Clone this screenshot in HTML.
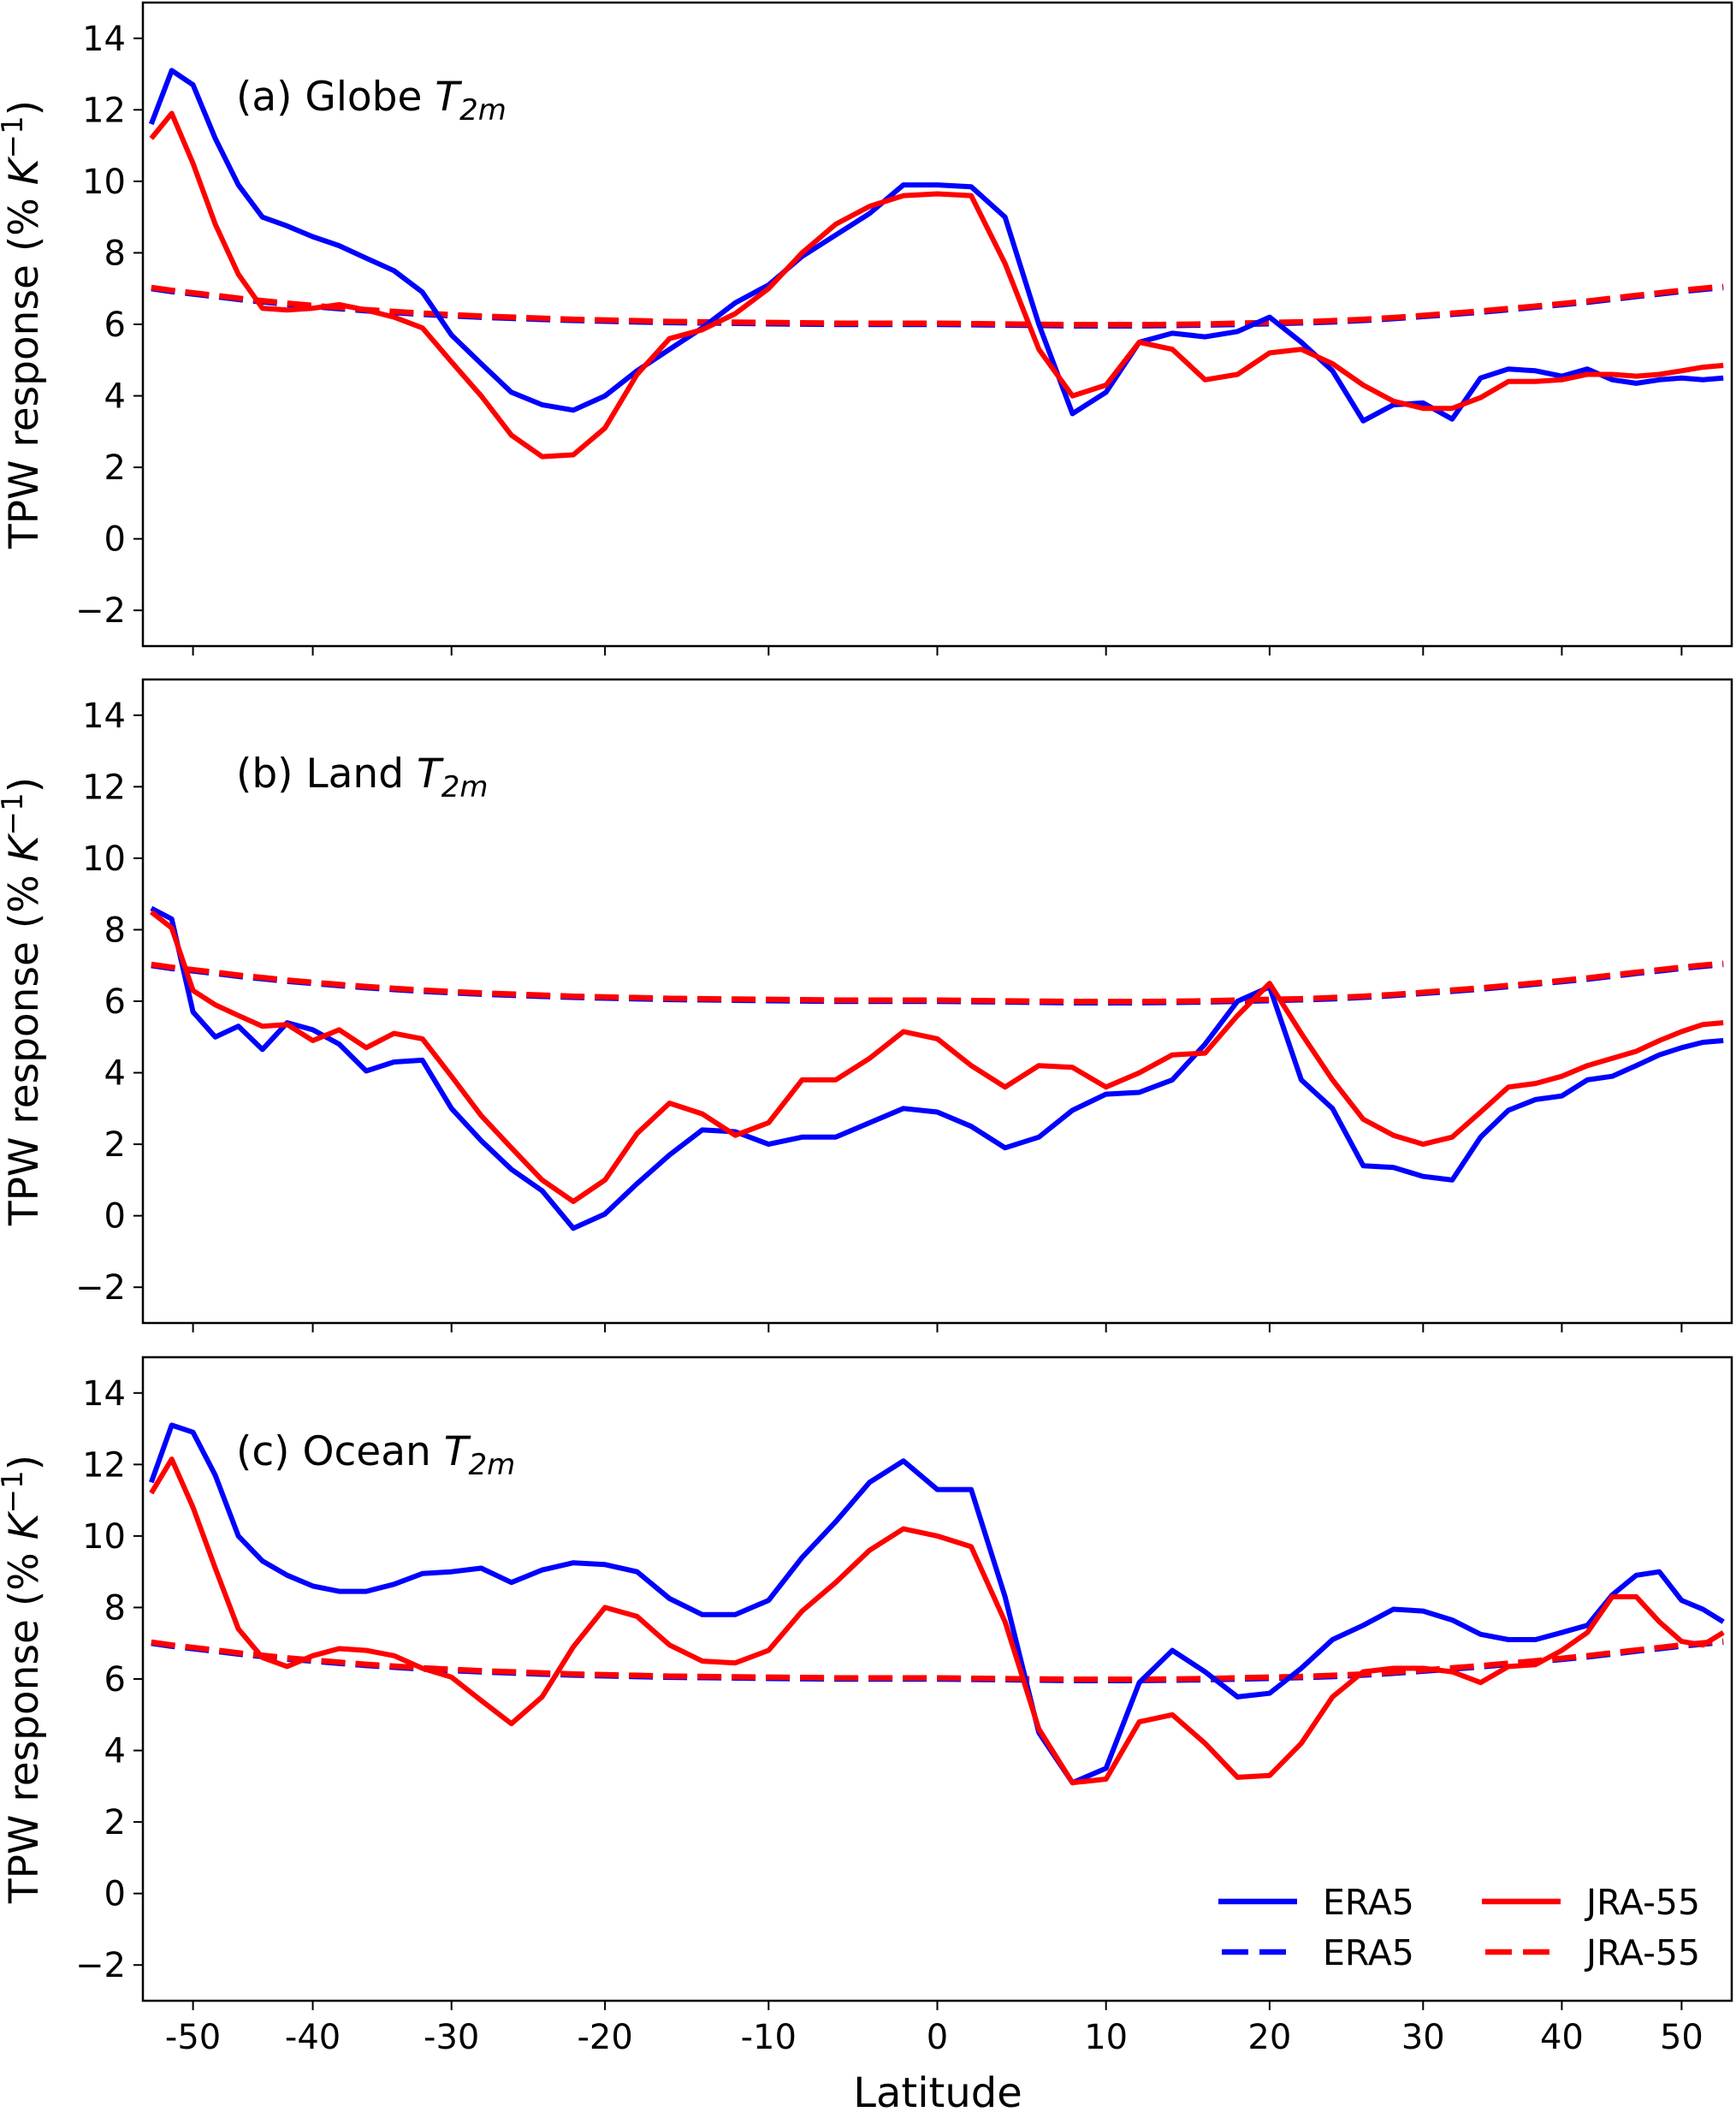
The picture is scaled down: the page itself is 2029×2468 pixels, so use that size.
<!DOCTYPE html>
<html><head><meta charset="utf-8"><style>
html,body{margin:0;padding:0;background:#fff;}
svg{display:block;font-family:"DejaVu Sans","Liberation Sans",sans-serif;}
</style></head><body>
<svg id="chart" width="2029" height="2468" viewBox="0 0 2029 2468" xmlns="http://www.w3.org/2000/svg"></svg>
<script>
const lats = [-54,-52,-50,-48,-46,-44,-42,-40,-38,-36,-34,-32,-30,-28,-26,-24,-22,-20,-18,-16,-14,-12,-10,-8,-6,-4,-2,0,2,4,6,8,10,12,14,16,18,20,22,24,26,28,30,32,34,36,38,40,42,44,46,48,50,52,54];
const globeEra5 = [11.6,13.1,12.7,11.2,9.9,9.0,8.75,8.45,8.2,7.85,7.5,6.9,5.7,4.9,4.1,3.75,3.6,4.0,4.7,5.3,5.9,6.6,7.1,7.9,8.5,9.1,9.9,9.9,9.85,9.0,6.0,3.5,4.1,5.5,5.75,5.65,5.8,6.2,5.5,4.7,3.3,3.75,3.8,3.35,4.5,4.75,4.7,4.55,4.75,4.45,4.35,4.45,4.5,4.45,4.5];
const globeJra = [11.2,11.9,10.5,8.8,7.4,6.45,6.4,6.45,6.55,6.4,6.2,5.9,4.95,4.0,2.9,2.3,2.35,3.1,4.6,5.6,5.85,6.3,7.0,8.0,8.8,9.3,9.6,9.65,9.6,7.7,5.3,4.0,4.3,5.5,5.3,4.45,4.6,5.2,5.3,4.9,4.3,3.85,3.65,3.65,3.95,4.4,4.4,4.45,4.6,4.6,4.55,4.6,4.7,4.8,4.85];
const landEra5 = [8.6,8.3,5.7,5.0,5.3,4.65,5.4,5.2,4.8,4.05,4.3,4.35,3.0,2.1,1.3,0.7,-0.35,0.05,0.9,1.7,2.4,2.35,2.0,2.2,2.2,2.6,3.0,2.9,2.5,1.9,2.2,2.95,3.4,3.45,3.8,4.8,6.0,6.4,3.8,3.0,1.4,1.35,1.1,1.0,2.2,2.95,3.25,3.35,3.8,3.9,4.2,4.5,4.7,4.85,4.9];
const landJra = [8.5,8.05,6.3,5.9,5.6,5.3,5.35,4.9,5.2,4.7,5.1,4.95,3.9,2.8,1.9,1.0,0.4,1.0,2.3,3.15,2.85,2.25,2.6,3.8,3.8,4.4,5.15,4.95,4.2,3.6,4.2,4.15,3.6,4.0,4.5,4.55,5.6,6.5,5.1,3.8,2.7,2.25,2.0,2.2,2.9,3.6,3.7,3.9,4.2,4.4,4.6,4.9,5.15,5.35,5.4];
const oceanEra5 = [11.5,13.1,12.9,11.7,10.0,9.3,8.9,8.6,8.45,8.45,8.65,8.95,9.0,9.1,8.7,9.05,9.25,9.2,9.0,8.25,7.8,7.8,8.2,9.4,10.4,11.5,12.1,11.3,11.3,8.3,4.5,3.1,3.5,5.9,6.8,6.2,5.5,5.6,6.3,7.1,7.5,7.95,7.9,7.65,7.25,7.1,7.1,7.3,7.5,8.35,8.9,9.0,8.2,7.95,7.6];
const oceanJra = [11.2,12.15,10.8,9.1,7.4,6.6,6.35,6.65,6.85,6.8,6.65,6.3,6.05,5.4,4.75,5.5,6.9,8.0,7.75,6.95,6.5,6.45,6.8,7.9,8.7,9.6,10.2,10.0,9.7,7.6,4.6,3.1,3.2,4.8,5.0,4.2,3.25,3.3,4.2,5.5,6.2,6.3,6.3,6.2,5.9,6.35,6.4,6.8,7.3,8.3,8.3,7.6,7.05,6.95,7.3];
const refEra5 = [7.0,6.92,6.85,6.78,6.7,6.63,6.56,6.5,6.44,6.38,6.33,6.28,6.24,6.2,6.17,6.14,6.11,6.09,6.07,6.05,6.04,6.03,6.02,6.01,6.0,6.0,6.0,6.0,5.99,5.98,5.97,5.96,5.96,5.96,5.97,5.98,6.0,6.02,6.04,6.07,6.11,6.16,6.22,6.28,6.34,6.41,6.48,6.55,6.62,6.7,6.78,6.85,6.92,6.98,7.03];
const refJra = [7.03,6.95,6.88,6.81,6.73,6.66,6.59,6.53,6.47,6.41,6.36,6.31,6.27,6.23,6.2,6.17,6.14,6.12,6.1,6.08,6.07,6.06,6.05,6.04,6.03,6.03,6.03,6.03,6.02,6.01,6.0,5.99,5.99,5.99,6.0,6.01,6.03,6.05,6.07,6.1,6.14,6.19,6.25,6.31,6.37,6.44,6.51,6.58,6.65,6.73,6.81,6.88,6.95,7.01,7.06];
const xTicks = [-50,-40,-30,-20,-10,0,10,20,30,40,50];
const xTickLabels = ["-50","-40","-30","-20","-10","0","10","20","30","40","50"];
const yTicks = [-2,0,2,4,6,8,10,12,14];
const yTickLabels = ["\u22122","0","2","4","6","8","10","12","14"];
const panelTitles = ["(a) Globe ","(b) Land ","(c) Ocean "];

const NS="http://www.w3.org/2000/svg";
const svg=document.getElementById('chart');
const L=167,R=2024,H=752,tops=[3,794,1586];
const sMax=Math.sin(54.85*Math.PI/180);
function xs(lat){const s=Math.sin(lat*Math.PI/180);return L+(s+sMax)/(2*sMax)*(R-L);}
function ys(v,top){return top+H-(v+3)/18*H;}
function mk(tag,attrs,parent){const e=document.createElementNS(NS,tag);for(const k in attrs)e.setAttribute(k,attrs[k]);(parent||svg).appendChild(e);return e;}

const panels=[[globeEra5,globeJra],[landEra5,landJra],[oceanEra5,oceanJra]];
const pnames=['globe','land','ocean'];
panels.forEach((p,i)=>{
  const top=tops[i];
  const g=mk('g',{});
  
  
  const cp=mk('clipPath',{id:'cp'+i},g);
  mk('rect',{x:L,y:top,width:R-L,height:H},cp);
  const series=[[refEra5,'#0000ff',true,'era5-reference-line'],[refJra,'#ff0000',true,'jra55-reference-line'],[p[0],'#0000ff',false,'era5-line'],[p[1],'#ff0000',false,'jra55-line']];
  series.forEach(s=>{
    const d=lats.map((la,j)=>(j?'L':'M')+xs(la).toFixed(1)+' '+ys(s[0][j],top).toFixed(1)).join(' ');
    const path=mk('path',{d:d,fill:'none',stroke:s[1],'stroke-width':s[2]?6.5:6,'stroke-linejoin':'round','clip-path':'url(#cp'+i+')'},g);
    if(s[2])path.setAttribute('stroke-dasharray','28 12');
    
    
  });
  const frame=mk('rect',{x:L,y:top,width:R-L,height:H,fill:'none',stroke:'#000','stroke-width':2.5},g);
  
  
  yTicks.forEach((v,j)=>{
    const y=ys(v,top);
    mk('line',{x1:L-11,x2:L,y1:y,y2:y,stroke:'#000','stroke-width':2},g);
    const t=mk('text',{x:L-20,y:y+14,'text-anchor':'end','font-size':40},g);
    t.textContent=yTickLabels[j];
    
    
  });
  xTicks.forEach((v,j)=>{
    const x=xs(v);
    mk('line',{x1:x,x2:x,y1:top+H,y2:top+H+11,stroke:'#000','stroke-width':2},g);
    if(i===2){
      const t=mk('text',{x:x,y:top+H+56,'text-anchor':'middle','font-size':40},g);
      t.textContent=xTickLabels[j];
      
      
    }
  });
  const tt=mk('text',{x:276,y:top+126,'font-size':47},g);
  
  
  tt.appendChild(document.createTextNode(panelTitles[i]));
  const ti=mk('tspan',{'font-style':'italic'},tt);ti.textContent='T';
  const ts=mk('tspan',{'font-style':'italic','font-size':34,dy:11},tt);ts.textContent='2m';
  const yl=mk('text',{x:0,y:0,'text-anchor':'middle','font-size':47,transform:'translate(44,'+(top+H/2)+') rotate(-90)'},g);
  
  
  yl.appendChild(document.createTextNode('TPW response (% '));
  const k=mk('tspan',{'font-style':'italic'},yl);k.textContent='K';
  const sup=mk('tspan',{'font-size':34,dy:-18},yl);sup.textContent='\u22121';
  const cl=mk('tspan',{dy:18},yl);cl.textContent=')';
});
const xl=mk('text',{x:1096,y:2462,'text-anchor':'middle','font-size':48});
xl.textContent='Latitude';



const leg=mk('g',{});


const legItems=[[1424,2222,'#0000ff',false,'ERA5'],[1732,2222,'#ff0000',false,'JRA-55'],[1424,2281,'#0000ff',true,'ERA5'],[1732,2281,'#ff0000',true,'JRA-55']];
legItems.forEach(it=>{
  const e=mk('g',{},leg);
  
  
  const ln=mk('line',{x1:it[0]+(it[3]?4:0),x2:it[0]+92,y1:it[1],y2:it[1],stroke:it[2],'stroke-width':6.5},e);
  if(it[3])ln.setAttribute('stroke-dasharray','31 13');
  const t=mk('text',{x:it[0]+122,y:it[1]+15,'font-size':41},e);
  t.textContent=it[4];
});
</script>
</body></html>
